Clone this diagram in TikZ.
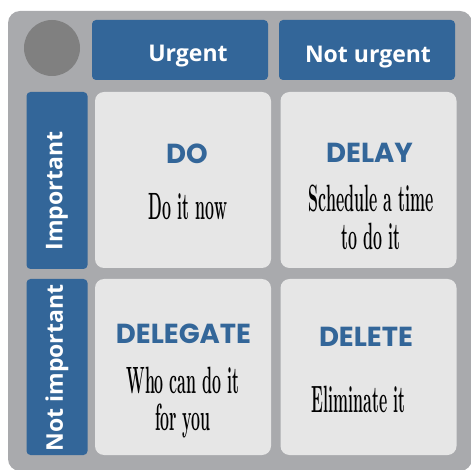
\documentclass[tikz,border=0pt]{standalone}
\usepackage{fontspec}
\newfontfamily\hdrfont{Open Sans}
\newfontfamily\titlefont{Poppins}
\definecolor{mblue}{RGB}{51,102,153}
\definecolor{mgray}{RGB}{169,170,173}
\definecolor{mcircle}{RGB}{128,128,128}
\definecolor{mcell}{RGB}{230,230,230}
\tikzset{
  hdr/.style={fill=mblue, rounded corners=4pt, inner sep=0pt},
  hdrtext/.style={text=white, inner sep=0pt,
    font=\hdrfont\bfseries\fontsize{23}{28}\selectfont},
  cellbox/.style={fill=mcell, rounded corners=9pt, inner sep=0pt,
    minimum width=176pt, minimum height=176pt},
  ttl/.style={text=mblue, inner sep=0pt, anchor=base,
    font=\titlefont\bfseries\fontsize{27.5}{30}\selectfont},
  body/.style={text=black, inner sep=0pt, anchor=base, xscale=0.42, transform shape,
    font=\bfseries\fontsize{38}{40}\selectfont}
}
\begin{document}
\begin{tikzpicture}[x=1pt,y=-1pt]
\useasboundingbox (0,0) rectangle (471,470);
% background panel
\node[fill=mgray, rounded corners=12pt, inner sep=0pt, minimum width=464pt, minimum height=460pt] (panel) at (240,241) {};
% corner circle
\node[circle, fill=mcircle, minimum size=56pt, inner sep=0pt] (dot) at (52,48) {};
% column headers
\node[hdr, minimum width=176pt, minimum height=60pt] (urg) at (180,50) {};
\node[hdrtext, anchor=base] (urgt) at (188,62) {Urgent};
\node[hdr, minimum width=176pt, minimum height=60pt] (nurg) at (367,50) {};
\node[hdrtext, anchor=base] (nurgt) at (368,63) {Not urgent};
% row headers
\node[hdr, minimum width=61pt, minimum height=177pt] (imp) at (57,180.5) {};
\node[hdrtext, rotate=90] (impt) at (57,191) {Important};
\node[hdr, minimum width=61pt, minimum height=176pt] (nimp) at (57,367) {};
\node[hdrtext, rotate=90] (nimpt) at (57,368) {Not important};
% cells
\node[cellbox] (c11) at (183,180) {};
\node[cellbox] (c12) at (368.5,180) {};
\node[cellbox] (c21) at (183,367) {};
\node[cellbox] (c22) at (368.5,367) {};
% texts
\node[ttl] (t11) at (187,164) {DO};
\node[body] (b11) at (188,220) {Do it now};
\node[ttl] (t12) at (369.5,163) {DELAY};
\node[body] (b12a) at (371,212) {Schedule a time};
\node[body] (b12b) at (371,250) {to do it};
\node[ttl] (t21) at (183.5,343) {DELEGATE};
\node[body] (b21a) at (183,393) {Who can do it};
\node[body] (b21b) at (183,430) {for you};
\node[ttl] (t22) at (366,346) {DELETE};
\node[body] (b22) at (358.5,412) {Eliminate it};
\end{tikzpicture}
\end{document}
